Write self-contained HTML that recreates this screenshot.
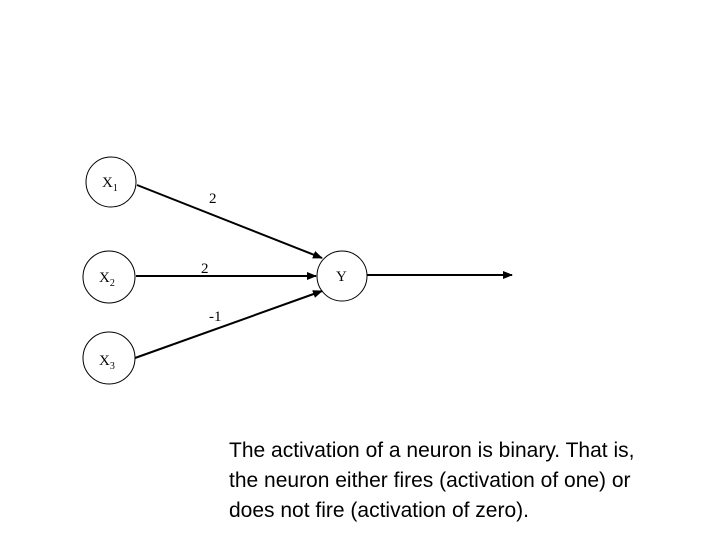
<!DOCTYPE html>
<html><head><style>
body{margin:0;width:720px;height:540px;background:#fff;overflow:hidden}
svg{position:absolute;left:0;top:0}
.t{position:absolute;left:229px;top:436px;font:21px "Liberation Sans",sans-serif;line-height:30px;color:#000;white-space:nowrap}
</style></head><body>
<svg width="720" height="540" font-family="Liberation Serif, serif" font-size="15">
<defs><marker id="a" markerWidth="10" markerHeight="8" refX="9" refY="4" orient="auto" markerUnits="userSpaceOnUse"><path d="M0,0 L10,4 L0,8 z" fill="#000"/></marker></defs>
<g fill="none" stroke="#000" stroke-width="1">
<circle cx="111" cy="182" r="25"/><circle cx="109" cy="277" r="26"/><circle cx="109" cy="358" r="26"/><circle cx="342" cy="276" r="25"/>
</g>
<g stroke="#000" stroke-width="2" marker-end="url(#a)">
<line x1="137" y1="185" x2="322" y2="258"/>
<line x1="136" y1="276" x2="316" y2="276"/>
<line x1="135" y1="358" x2="322" y2="291"/>
<line x1="367" y1="275" x2="512" y2="275"/>
</g>
<text x="102" y="187">X<tspan font-size="10" dy="4">1</tspan></text>
<text x="99" y="282">X<tspan font-size="10" dy="4">2</tspan></text>
<text x="99" y="365">X<tspan font-size="10" dy="4">3</tspan></text>
<text x="336" y="281">Y</text>
<text x="209" y="203">2</text>
<text x="201" y="273">2</text>
<text x="209" y="321">-1</text>
</svg>
<div class="t">The activation of a neuron is binary. That is,<br>the neuron either fires (activation of one) or<br>does not fire (activation of zero).</div>
</body></html>
